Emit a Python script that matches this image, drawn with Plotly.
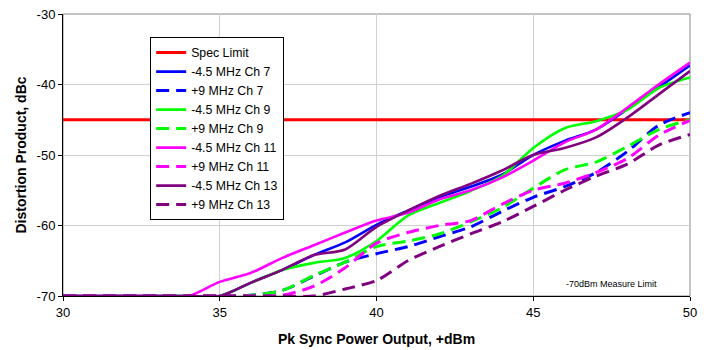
import plotly.graph_objects as go

# Pk Sync Power Output, +dBm
power_dbm = [30, 31, 32, 33, 34, 35, 36, 37, 38, 39, 40,
             41, 42, 43, 44, 45, 46, 47, 48, 49, 50]

spec_limit = -45

m45_ch7 = [-70, -70, -70, -70, -70, -70, -68.1, -66.3, -64.2, -62.4, -59.9,
           -57.9, -56.0, -54.5, -52.8, -50.0, -48.0, -46.4, -43.5, -40.4, -37.3]
p9_ch7 = [-70, -70, -70, -70, -70, -70, -69.9, -69.2, -67.2, -65.2, -64.0,
          -63.0, -61.6, -60.2, -58.0, -56.0, -54.5, -52.5, -49.5, -45.8, -44.0]
m45_ch9 = [-70, -70, -70, -70, -70, -70, -68.1, -66.3, -65.3, -64.6, -62.2,
           -58.6, -56.8, -55.1, -53.0, -49.0, -46.2, -45.2, -43.6, -40.5, -39.0]
p9_ch9 = [-70, -70, -70, -70, -70, -70, -69.9, -69.2, -67.1, -65.2, -63.0,
          -62.2, -61.2, -59.5, -57.5, -54.7, -52.1, -51.0, -48.8, -46.4, -45.0]
m45_ch11 = [-70, -70, -70, -70, -70, -68.0, -66.7, -64.6, -62.8, -61.0, -59.3,
            -58.2, -56.3, -55.0, -53.2, -50.8, -48.2, -46.4, -43.3, -40.0, -36.9]
p9_ch11 = [-70, -70, -70, -70, -70, -70, -70, -69.9, -68.6, -66.0, -62.5,
           -61.0, -60.0, -59.3, -57.0, -55.0, -54.0, -52.5, -50.5, -47.2, -45.1]
m45_ch13 = [-70, -70, -70, -70, -70, -70, -68.1, -66.3, -64.2, -63.4, -60.2,
            -57.9, -55.8, -54.1, -52.2, -50.0, -49.0, -47.5, -44.7, -41.4, -38.1]
p9_ch13 = [-70, -70, -70, -70, -70, -70, -70, -70, -70, -69.0, -67.8,
           -65.0, -63.0, -61.2, -59.5, -57.3, -55.0, -53.0, -51.3, -48.6, -47.1]

x_ticks = [30, 35, 40, 45, 50]
y_ticks = [-70, -60, -50, -40, -30]

series = [
    ("-4.5 MHz Ch 7", m45_ch7, "#0000FF", "solid"),
    ("+9 MHz Ch 7", p9_ch7, "#0000FF", "dash"),
    ("-4.5 MHz Ch 9", m45_ch9, "#00FF00", "solid"),
    ("+9 MHz Ch 9", p9_ch9, "#00FF00", "dash"),
    ("-4.5 MHz Ch 11", m45_ch11, "#FF00FF", "solid"),
    ("+9 MHz Ch 11", p9_ch11, "#FF00FF", "dash"),
    ("-4.5 MHz Ch 13", m45_ch13, "#800080", "solid"),
    ("+9 MHz Ch 13", p9_ch13, "#800080", "dash"),
]

fig = go.Figure()
fig.add_trace(go.Scatter(
    x=power_dbm, y=[spec_limit] * len(power_dbm), name="Spec Limit",
    mode="lines", line=dict(color="#FF0000", width=3)))

for name, vals, color, style in series:
    dash = "solid" if style == "solid" else "13px,7px"
    width = 2.6 if style == "solid" else 3
    fig.add_trace(go.Scatter(
        x=power_dbm, y=vals, name=name, mode="lines",
        line=dict(color=color, width=width, dash=dash,
                  shape="spline", smoothing=0.8)))

font_family = "Liberation Sans, Arial, sans-serif"

fig.update_layout(
    width=716, height=350,
    margin=dict(l=63, r=26, t=14, b=54, autoexpand=False),
    paper_bgcolor="white", plot_bgcolor="white",
    font=dict(family=font_family, size=13, color="black"),
    showlegend=True,
    legend=dict(
        x=0.139, y=0.918, xanchor="left", yanchor="top",
        bgcolor="white", bordercolor="black", borderwidth=1,
        font=dict(size=12.3, family=font_family, color="black"),
        tracegroupgap=0, itemwidth=30,
    ),
    xaxis=dict(
        range=[30, 50], tickvals=x_ticks, ticktext=[str(v) for v in x_ticks],
        showgrid=True, gridcolor="#D0D0D0", gridwidth=1,
        showline=True, linecolor="black", linewidth=1,
        ticks="outside", ticklen=4, tickcolor="black",
        zeroline=False, automargin=False,
        title=dict(text="<b>Pk Sync Power Output, +dBm</b>",
                   font=dict(size=14, family=font_family)),
    ),
    yaxis=dict(
        range=[-70, -30], tickvals=y_ticks, ticktext=[str(v) for v in y_ticks],
        showgrid=True, gridcolor="#D0D0D0", gridwidth=1,
        showline=True, linecolor="black", linewidth=1,
        ticks="outside", ticklen=4, tickcolor="black",
        zeroline=False, automargin=False,
        title=dict(text="<b>Distortion Product, dBc</b>",
                   font=dict(size=14, family=font_family), standoff=6),
    ),
    shapes=[dict(type="rect", xref="paper", yref="paper", x0=0, y0=0, x1=1, y1=1,
                 line=dict(color="#888888", width=1), layer="below")],
    annotations=[dict(x=47.5, y=-68.3, xref="x", yref="y", text="-70dBm Measure Limit",
                      showarrow=False, font=dict(size=9, family=font_family, color="black"))],
)

fig.write_html("out.html", config={"displayModeBar": False},
               post_script="document.body.style.margin='0px';")
